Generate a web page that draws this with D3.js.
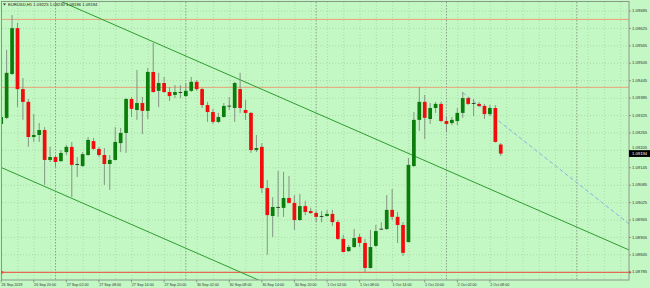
<!DOCTYPE html>
<html>
<head>
<meta charset="utf-8">
<script src="https://cdn.jsdelivr.net/npm/d3@7"></script>
<style>
  html, body { margin: 0; padding: 0; background: #c3f7c3; }
  svg { display: block; font-family: "Liberation Sans", Arial, sans-serif; }
</style>
</head>
<body>
<svg width="650" height="288"></svg>
<script>
const svg = d3.select("svg");

const width = 650;
const height = 288;
const plot = { left: 2, right: 629, top: 2, bottom: 280 };

const symbol = "EURUSD,H1";

// hourly bars, 26 Sep 2019 14:00 .. 2 Oct 2019 10:00
const open = [
    1.09296, 1.09317, 1.09468, 1.09626, 1.09416, 1.09372, 1.09251, 1.09258, 1.09275, 1.09172,
    1.09182, 1.09168, 1.09199, 1.09217, 1.09158, 1.09151, 1.09189, 1.09237, 1.09210, 1.09189,
    1.09158, 1.09172, 1.09230, 1.09265, 1.09382, 1.09344, 1.09368, 1.09341, 1.09475, 1.09410,
    1.09437, 1.09406, 1.09396, 1.09406, 1.09392, 1.09410, 1.09441, 1.09416, 1.09361, 1.09337,
    1.09303, 1.09320, 1.09357, 1.09351, 1.09416, 1.09344, 1.09334, 1.09206, 1.09217, 1.09075,
    1.08979, 1.09010, 1.09007, 1.09041, 1.09024, 1.08965, 1.09013, 1.08996, 1.08989, 1.08979,
    1.08979, 1.08986, 1.08958, 1.08900, 1.08858, 1.08872, 1.08907, 1.08886, 1.08800, 1.08876,
    1.08934, 1.08934, 1.09000, 1.08976, 1.08948, 1.08889, 1.09151, 1.09310, 1.09372, 1.09313,
    1.09351, 1.09365, 1.09306, 1.09299, 1.09306, 1.09334, 1.09385, 1.09368, 1.09365, 1.09358,
    1.09330, 1.09351, 1.09225
];
const high = [
    1.09358, 1.09551, 1.09671, 1.09644, 1.09454, 1.09382, 1.09330, 1.09299, 1.09285, 1.09217,
    1.09189, 1.09206, 1.09224, 1.09234, 1.09182, 1.09199, 1.09251, 1.09248, 1.09217, 1.09213,
    1.09189, 1.09285, 1.09282, 1.09385, 1.09389, 1.09482, 1.09389, 1.09489, 1.09575, 1.09472,
    1.09458, 1.09423, 1.09430, 1.09430, 1.09437, 1.09458, 1.09447, 1.09420, 1.09372, 1.09348,
    1.09334, 1.09368, 1.09389, 1.09441, 1.09472, 1.09379, 1.09337, 1.09258, 1.09230, 1.09103,
    1.09044, 1.09134, 1.09131, 1.09117, 1.09051, 1.09055, 1.09031, 1.09007, 1.08996, 1.08996,
    1.09000, 1.09000, 1.08965, 1.08914, 1.08879, 1.08934, 1.08917, 1.08900, 1.08931, 1.08948,
    1.08958, 1.09051, 1.09072, 1.08993, 1.08958, 1.09179, 1.09337, 1.09423, 1.09396, 1.09368,
    1.09372, 1.09372, 1.09320, 1.09320, 1.09351, 1.09406, 1.09389, 1.09382, 1.09372, 1.09365,
    1.09361, 1.09361, 1.09230
];
const low = [
    1.09248, 1.09313, 1.09465, 1.09354, 1.09310, 1.09217, 1.09234, 1.09234, 1.09086, 1.09165,
    1.09148, 1.09165, 1.09189, 1.09044, 1.09113, 1.09148, 1.09186, 1.09206, 1.09182, 1.09086,
    1.09069, 1.09170, 1.09199, 1.09196, 1.09320, 1.09310, 1.09261, 1.09313, 1.09404, 1.09354,
    1.09403, 1.09375, 1.09385, 1.09385, 1.09389, 1.09406, 1.09410, 1.09351, 1.09303, 1.09296,
    1.09299, 1.09318, 1.09344, 1.09303, 1.09334, 1.09310, 1.09196, 1.09199, 1.09058, 1.08845,
    1.08907, 1.08976, 1.08976, 1.09022, 1.08931, 1.08962, 1.08982, 1.08986, 1.08958, 1.08958,
    1.08976, 1.08945, 1.08896, 1.08853, 1.08855, 1.08870, 1.08872, 1.08786, 1.08798, 1.08872,
    1.08931, 1.08931, 1.08965, 1.08886, 1.08841, 1.08889, 1.09148, 1.09272, 1.09244, 1.09296,
    1.09334, 1.09303, 1.09268, 1.09292, 1.09292, 1.09317, 1.09361, 1.09323, 1.09354, 1.09313,
    1.09323, 1.09232, 1.09186
];
const close = [
    1.09320, 1.09472, 1.09626, 1.09416, 1.09372, 1.09251, 1.09258, 1.09275, 1.09172, 1.09182,
    1.09165, 1.09196, 1.09217, 1.09155, 1.09156, 1.09192, 1.09241, 1.09210, 1.09189, 1.09158,
    1.09172, 1.09234, 1.09265, 1.09382, 1.09348, 1.09368, 1.09341, 1.09475, 1.09406, 1.09437,
    1.09406, 1.09392, 1.09406, 1.09403, 1.09410, 1.09441, 1.09416, 1.09361, 1.09337, 1.09303,
    1.09320, 1.09358, 1.09359, 1.09437, 1.09351, 1.09334, 1.09206, 1.09213, 1.09075, 1.08982,
    1.09010, 1.09009, 1.09041, 1.09024, 1.08965, 1.09013, 1.08993, 1.08989, 1.08976, 1.08978,
    1.08986, 1.08958, 1.08900, 1.08855, 1.08872, 1.08903, 1.08886, 1.08800, 1.08872, 1.08927,
    1.08935, 1.09000, 1.08976, 1.08948, 1.08852, 1.09155, 1.09310, 1.09372, 1.09317, 1.09351,
    1.09365, 1.09306, 1.09296, 1.09310, 1.09334, 1.09385, 1.09365, 1.09367, 1.09358, 1.09330,
    1.09351, 1.09234, 1.09194
];

// time axis labels (every 6 bars) and day starts (bar index)
const timeLabels = [
    "26 Sep 2019", "26 Sep 20:00", "27 Sep 02:00", "27 Sep 08:00", "27 Sep 14:00", "27 Sep 20:00",
    "30 Sep 02:00", "30 Sep 08:00", "30 Sep 14:00", "30 Sep 20:00", "1 Oct 02:00", "1 Oct 08:00",
    "1 Oct 14:00", "1 Oct 20:00", "2 Oct 02:00", "2 Oct 08:00"
];
const labelStep = 6;
const daySeparators = [10, 34, 58, 82, 106];

const priceTicks = [
    1.09685, 1.09625, 1.09565, 1.09505, 1.09445, 1.09385, 1.09325, 1.09265,
    1.09205, 1.09145, 1.09085, 1.09025, 1.08965, 1.08905, 1.08845, 1.08785
];

// horizontal levels
const orangeLevels = [1.09656, 1.09422];
const redLevel = 1.08785;

// trend lines: [bar, price] anchors
const upperTrend = [[28, 1.09579], [115, 1.08867]];
const lowerTrend = [[0, 1.09146], [50, 1.08737]];
const blueRay = [[85, 1.09404], [115, 1.08961]];

const barStep = 5.43;
const x = d3.scaleLinear().domain([0, 1]).range([1.2, 1.2 + barStep]);
const y = d3.scaleLinear()
    .domain([priceTicks[priceTicks.length - 1], priceTicks[0]])
    .range([272.3, 11]);

const bars = open.map((o, i) => ({ i, o, h: high[i], l: low[i], c: close[i] }));
const last = bars[bars.length - 1];

svg.append("rect")
    .attr("width", width)
    .attr("height", height)
    .attr("fill", "#c3f7c3");

svg.append("defs").append("clipPath")
    .attr("id", "plotClip")
    .append("rect")
    .attr("x", plot.left)
    .attr("y", plot.top)
    .attr("width", plot.right - plot.left)
    .attr("height", plot.bottom - plot.top);

const g = svg.append("g").attr("clip-path", "url(#plotClip)");

// grid
const lastGridBar = Math.floor(x.invert(plot.right));
g.selectAll("line.vgrid")
    .data(d3.range(0, lastGridBar + 1, 3))
    .enter()
    .append("line")
    .attr("x1", d => x(d) + 0.5)
    .attr("x2", d => x(d) + 0.5)
    .attr("y1", plot.top)
    .attr("y2", plot.bottom)
    .attr("stroke", "#9cc89c")
    .attr("stroke-width", 0.6)
    .attr("stroke-dasharray", "1,2");

g.selectAll("line.hgrid")
    .data(priceTicks)
    .enter()
    .append("line")
    .attr("x1", plot.left)
    .attr("x2", plot.right)
    .attr("y1", d => y(d))
    .attr("y2", d => y(d))
    .attr("stroke", "#9cc89c")
    .attr("stroke-width", 0.6)
    .attr("stroke-dasharray", "1,2");

g.selectAll("line.daysep")
    .data(daySeparators)
    .enter()
    .append("line")
    .attr("x1", d => x(d))
    .attr("x2", d => x(d))
    .attr("y1", plot.top)
    .attr("y2", plot.bottom)
    .attr("stroke", "#6f7f6f")
    .attr("stroke-width", 0.7)
    .attr("stroke-dasharray", "1.5,1.5");

// horizontal levels
g.selectAll("line.orange")
    .data(orangeLevels)
    .enter()
    .append("line")
    .attr("x1", plot.left)
    .attr("x2", plot.right)
    .attr("y1", d => y(d))
    .attr("y2", d => y(d))
    .attr("stroke", "#e9a27c")
    .attr("stroke-width", 1);

g.append("line")
    .attr("x1", plot.left)
    .attr("x2", plot.right)
    .attr("y1", y(redLevel))
    .attr("y2", y(redLevel))
    .attr("stroke", "#f04a3a")
    .attr("stroke-width", 1);

// trend lines
function extend(anchors, fromStart) {
    const [[b1, p1], [b2, p2]] = anchors;
    const x1 = x(b1), y1 = y(p1), x2 = x(b2), y2 = y(p2);
    const k = (y2 - y1) / (x2 - x1);
    const xa = fromStart ? x1 : plot.left - 10;
    const xb = plot.right + 10;
    return [[xa, y1 + k * (xa - x1)], [xb, y1 + k * (xb - x1)]];
}

g.selectAll("path.trend")
    .data([extend(upperTrend, false), extend(lowerTrend, false)])
    .enter()
    .append("path")
    .attr("d", d3.line())
    .attr("fill", "none")
    .attr("stroke", "#2f9d2f")
    .attr("stroke-width", 1);

g.append("path")
    .attr("d", d3.line()(extend(blueRay, true)))
    .attr("fill", "none")
    .attr("stroke", "#86b2e6")
    .attr("stroke-width", 1)
    .attr("stroke-dasharray", "4,2.5");

// candles
const bodyWidth = 3.7;
const candles = g.selectAll("g.candle")
    .data(bars)
    .enter()
    .append("g");

candles.append("line")
    .attr("x1", d => x(d.i))
    .attr("x2", d => x(d.i))
    .attr("y1", d => y(d.h))
    .attr("y2", d => y(d.l))
    .attr("stroke", "#7d8a7d")
    .attr("stroke-width", 0.9);

candles.append("rect")
    .attr("x", d => x(d.i) - bodyWidth / 2)
    .attr("width", bodyWidth)
    .attr("y", d => y(Math.max(d.o, d.c)))
    .attr("height", d => Math.max(0.9, Math.abs(y(d.o) - y(d.c))))
    .attr("fill", d => Math.abs(y(d.o) - y(d.c)) < 1 ? "#2a3a2a" : (d.c >= d.o ? "#0a7d0a" : "#f20d0d"));

// frame
svg.append("rect")
    .attr("x", plot.left - 0.5)
    .attr("y", plot.top - 0.5)
    .attr("width", plot.right - plot.left + 0.5)
    .attr("height", plot.bottom - plot.top + 0.5)
    .attr("fill", "none")
    .attr("stroke", "#8a9a8a")
    .attr("stroke-width", 1);

// level markers
svg.append("rect")
    .attr("x", 1)
    .attr("y", y(redLevel) - 1.2)
    .attr("width", 2.4)
    .attr("height", 2.4)
    .attr("fill", "#f04a3a");
svg.append("path")
    .attr("d", `M${plot.right},${y(redLevel) - 1.8}L${plot.right + 2.6},${y(redLevel)}L${plot.right},${y(redLevel) + 1.8}Z`)
    .attr("fill", "#f04a3a");

// price axis (a label sitting under the price tag is nudged up, partly hidden like in MT4)
const tagY = y(last.c);
const labelY = d => Math.abs(y(d) - tagY) < 5 ? tagY - 5.2 : y(d);

const priceAxis = svg.append("g");
priceAxis.selectAll("line")
    .data(priceTicks)
    .enter()
    .append("line")
    .attr("x1", plot.right)
    .attr("x2", plot.right + 2)
    .attr("y1", d => y(d))
    .attr("y2", d => y(d))
    .attr("stroke", "#6a6a6a")
    .attr("stroke-width", 0.6);
priceAxis.selectAll("text")
    .data(priceTicks)
    .enter()
    .append("text")
    .attr("x", plot.right + 3)
    .attr("y", labelY)
    .attr("dominant-baseline", "middle")
    .attr("font-size", 4.2)
    .attr("fill", "#333")
    .text(d => d3.format(".5f")(d));

// current price tag
svg.append("rect")
    .attr("x", plot.right)
    .attr("y", tagY - 3.4)
    .attr("width", width - plot.right)
    .attr("height", 6.8)
    .attr("fill", "#000");
svg.append("text")
    .attr("x", plot.right + 3)
    .attr("y", tagY)
    .attr("dominant-baseline", "middle")
    .attr("font-size", 4.2)
    .attr("fill", "#fff")
    .text(d3.format(".5f")(last.c));

// time axis
const timeAxis = svg.append("g");
timeAxis.selectAll("line")
    .data(timeLabels)
    .enter()
    .append("line")
    .attr("x1", (d, i) => x(i * labelStep))
    .attr("x2", (d, i) => x(i * labelStep))
    .attr("y1", plot.bottom)
    .attr("y2", plot.bottom + 2.5)
    .attr("stroke", "#6a6a6a")
    .attr("stroke-width", 0.6);
timeAxis.selectAll("text")
    .data(timeLabels)
    .enter()
    .append("text")
    .attr("x", (d, i) => x(i * labelStep) + 0.3)
    .attr("y", 285.6)
    .attr("font-size", 3.7)
    .attr("fill", "#333")
    .text(d => d);

// header
svg.append("path")
    .attr("d", "M3,3.6L6,3.6L4.5,5.6Z")
    .attr("fill", "#333");
svg.append("text")
    .attr("x", 8)
    .attr("y", 6.3)
    .attr("font-size", 4.2)
    .attr("fill", "#222")
    .text([symbol, last.o, last.h, last.l, last.c].map((v, i) => i ? d3.format(".5f")(v) : v).join(" "));
</script>
</body>
</html>
